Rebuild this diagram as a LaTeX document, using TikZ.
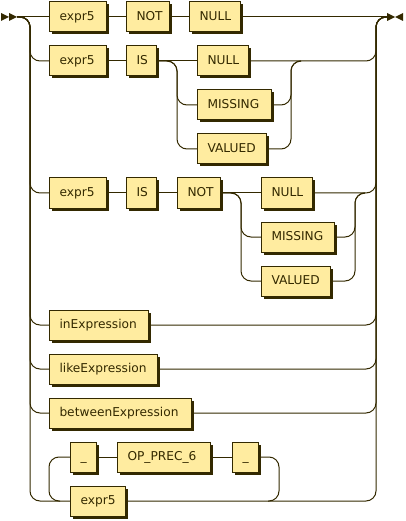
\documentclass[tikz,border=0pt]{standalone}
\usepackage{fontspec}
\setmainfont{DejaVu Sans}
\usetikzlibrary{shadows}
\definecolor{ink}{HTML}{332900}
\definecolor{boxfill}{HTML}{FFECA0}
\tikzset{
  term/.style={draw=ink, fill=boxfill, line width=1pt, minimum height=30pt,
    inner xsep=10pt, inner ysep=0pt, anchor=west, align=left, text=ink,
    font=\fontsize{12.2}{14}\selectfont, text width=#1,
    text height=9pt, text depth=2.5pt,
    drop shadow={shadow xshift=2.5pt, shadow yshift=-2.5pt, opacity=1, fill=ink}},
  term/.default=30pt,
  rail/.style={draw=ink, line width=1pt, rounded corners=10pt},
}
\begin{document}
\begin{tikzpicture}[x=1pt,y=-1pt]
\useasboundingbox (0,0) rectangle (405,521);
\coordinate (start) at (17,17);
\coordinate (end) at (387,17);
\coordinate (lft) at (30,0);
\coordinate (rgt) at (376,0);
% expr5 NOT NULL
\node[term=37pt] (a1) at (49,17) {expr5};
\node[term=23pt] (a2) at (126,17) {NOT};
\node[term=31pt] (a3) at (189,17) {NULL};
% expr5 IS (NULL|MISSING|VALUED)
\node[term=37pt] (b1) at (49,61) {expr5};
\node[term=10pt] (b2) at (126,61) {IS};
\node[term=31pt] (b3) at (197,61) {NULL};
\node[term=54pt] (b4) at (197,105) {MISSING};
\node[term=49pt] (b5) at (197,149) {VALUED};
% expr5 IS NOT (NULL|MISSING|VALUED)
\node[term=37pt] (c1) at (49,193) {expr5};
\node[term=10pt] (c2) at (126,193) {IS};
\node[term=23pt] (c3) at (177,193) {NOT};
\node[term=31pt] (c4) at (261,193) {NULL};
\node[term=53pt] (c5) at (261,237) {MISSING};
\node[term=49pt] (c6) at (261,281) {VALUED};
% other expressions
\node[term=79pt] (d1) at (49,325) {inExpression};
\node[term=88pt] (e1) at (49,369) {likeExpression};
\node[term=122pt] (f1) at (49,413) {betweenExpression};
% loop
\node[term=6pt] (g1) at (70,457) {\_};
\node[term=73pt] (g2) at (117,457) {OP\_PREC\_6};
\node[term=6pt] (g3) at (232,457) {\_};
\node[term=35pt] (g4) at (70,501) {expr5};
\coordinate (bj) at (291,61);
\coordinate (cj) at (355,193);
\coordinate (lpa) at (268,501);
\coordinate (lpb) at (279,457);

\fill[ink] (start) -- ++(-8,-4) -- ++(0,8) -- cycle;
\fill[ink] ([xshift=-8pt]start) -- ++(-8,-4) -- ++(0,8) -- cycle;
\fill[ink] ([xshift=8pt]end) -- ++(-8,-4) -- ++(0,8) -- cycle;
\fill[ink] ([xshift=8pt]end) -- ++(8,-4) -- ++(0,8) -- cycle;

\draw[rail] (start) -- (a1);
\draw[rail] (a1) -- (a2);
\draw[rail] (a2) -- (a3);
\draw[rail] (a3) -- (end);
\foreach \n in {b1,c1,d1,e1,f1,g4}
  \draw[rail] (start) -| (\n.west -| lft) -- (\n.west);
\foreach \n in {b3,c4,d1,e1,f1,g4}
  \draw[rail] (\n.east) -| (end -| rgt) -- (end);

\draw[rail] (b1) -- (b2);
\draw[rail] (b2) -- (b3);
\foreach \n in {b4,b5} {
  \draw[rail] (b2.east) -| ([xshift=-20pt]\n.west) -- (\n.west);
  \draw[rail] (\n.east) -| (bj) -- ++(10,0);
}

\draw[rail] (c1) -- (c2);
\draw[rail] (c2) -- (c3);
\draw[rail] (c3) -- (c4);
\foreach \n in {c5,c6} {
  \draw[rail] (c3.east) -| ([xshift=-20pt]\n.west) -- (\n.west);
  \draw[rail] (\n.east) -| (cj) -- ++(10,0);
}

\draw[rail] (g1) -- (g2);
\draw[rail] (g2) -- (g3);
\draw[rail] ([xshift=-10pt]g4.west) -| ([xshift=-21pt]g1.west) -- (g1.west);
\draw[rail] (lpa) -| (lpb) -- (g3);
\end{tikzpicture}
\end{document}
